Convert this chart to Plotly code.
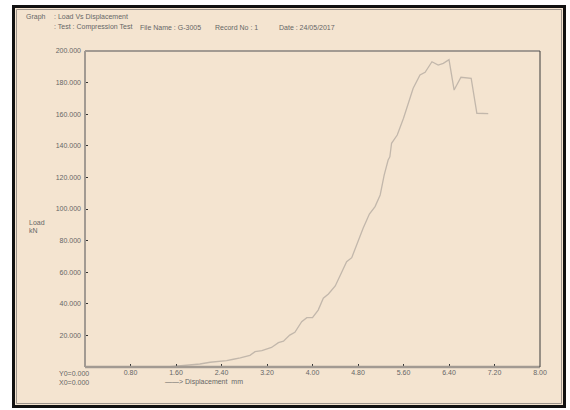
import plotly.graph_objects as go

# Load vs displacement record, compression test G-3005
displacement_mm = [1.45, 1.60, 1.80, 2.02, 2.20, 2.49, 2.61, 2.73, 2.90, 2.99, 3.11, 3.28,
                   3.40, 3.49, 3.60, 3.69, 3.81, 3.90, 4.00, 4.10, 4.19, 4.28, 4.40, 4.48,
                   4.60, 4.69, 4.81, 4.89, 5.00, 5.10, 5.19, 5.26, 5.33, 5.36, 5.39, 5.49,
                   5.60, 5.68, 5.77, 5.89, 5.98, 6.10, 6.21, 6.30, 6.40, 6.49, 6.61, 6.79,
                   6.89, 7.09]
load_kn = [0.0, 0.4, 1.0, 1.9, 3.0, 4.0, 4.9, 5.7, 7.4, 9.7, 10.3, 12.4,
           15.4, 16.3, 20.2, 22.0, 28.7, 31.2, 31.2, 36.0, 43.5, 46.2, 51.3, 57.2,
           66.6, 69.2, 80.4, 87.8, 96.8, 101.5, 108.9, 121.5, 131.0, 133.0, 141.6, 146.8,
           157.4, 165.8, 176.4, 184.8, 186.5, 193.2, 191.1, 192.2, 194.5, 175.3, 183.4, 182.7,
           160.6, 160.4]

x_ticks = [0.8, 1.6, 2.4, 3.2, 4.0, 4.8, 5.6, 6.4, 7.2, 8.0]
x_tick_labels = ["0.80", "1.60", "2.40", "3.20", "4.00", "4.80", "5.60", "6.40", "7.20", "8.00"]
y_ticks = [20, 40, 60, 80, 100, 120, 140, 160, 180, 200]
y_tick_labels = ["20.000", "40.000", "60.000", "80.000", "100.000", "120.000",
                 "140.000", "160.000", "180.000", "200.000"]

W, H = 570, 410
L, R, T, B = 85, 540, 51, 367          # plot area in pixels
PW, PH = R - L, B - T

def px(x):
    return (x - L) / PW

def py(y):
    return (B - y) / PH

CREAM = "#F4E4D0"
TEXT = "#666666"
AXIS = "#A29A92"
FONT = "Liberation Sans, Arial, sans-serif"

fig = go.Figure()
fig.add_trace(go.Scatter(
    x=displacement_mm, y=load_kn, mode="lines",
    line=dict(color="#C2B7AB", width=1.3), hoverinfo="skip", showlegend=False,
))

shapes = [
    # window frame
    dict(type="rect", xref="paper", yref="paper", layer="below",
         x0=px(13.5), x1=px(564.5), y0=py(406.5), y1=py(6.5),
         line=dict(color="#111111", width=3), fillcolor=CREAM),
    dict(type="rect", xref="paper", yref="paper", layer="below",
         x0=px(16.5), x1=px(561.5), y0=py(403.5), y1=py(9.5),
         line=dict(color="#9C948C", width=1)),
    # plot box
    dict(type="line", xref="paper", yref="paper", x0=0, x1=0, y0=0, y1=1,
         line=dict(color=AXIS, width=2)),
    dict(type="line", xref="paper", yref="paper", x0=0, x1=1, y0=0, y1=0,
         line=dict(color=AXIS, width=2.5)),
    dict(type="line", xref="paper", yref="paper", x0=0, x1=1, y0=1, y1=1,
         line=dict(color=AXIS, width=2)),
    dict(type="line", xref="paper", yref="paper", x0=1, x1=1, y0=0, y1=1,
         line=dict(color="#3A3A3A", width=1)),
]

def note(x, y, text, size=7, anchor="left"):
    return dict(xref="paper", yref="paper", x=px(x), y=py(y), text=text,
                showarrow=False, xanchor=anchor, yanchor="middle",
                font=dict(size=size, color=TEXT, family=FONT))

annotations = [
    note(24, 17, "Graph"),
    note(52, 17, ": Load Vs Displacement"),
    note(52, 27, ": Test : Compression Test"),
    note(138, 27, "File Name : G-3005"),
    note(213, 27, "Record No : 1"),
    note(277, 27, "Date : 24/05/2017"),
    note(27, 222, "Load"),
    note(27, 230, "kN"),
    note(57, 373, "Y0=0.000"),
    note(57, 382, "X0=0.000"),
    note(163, 382, "——> Displacement  mm"),
]

fig.update_layout(
    width=W, height=H,
    margin=dict(l=L, r=W - R, t=T, b=H - B, pad=0),
    paper_bgcolor="white", plot_bgcolor=CREAM,
    font=dict(family=FONT, size=7, color=TEXT),
    shapes=shapes, annotations=annotations,
    xaxis=dict(range=[0, 8], tickvals=x_ticks, ticktext=x_tick_labels,
               ticks="inside", ticklen=3, tickcolor="#333333", tickwidth=1,
               showgrid=False, zeroline=False, showline=False,
               tickfont=dict(size=7, color=TEXT, family=FONT), fixedrange=True),
    yaxis=dict(range=[0, 200], tickvals=y_ticks, ticktext=y_tick_labels,
               ticks="inside", ticklen=3, tickcolor="#333333", tickwidth=1,
               ticklabelstandoff=3,
               showgrid=False, zeroline=False, showline=False,
               tickfont=dict(size=7, color=TEXT, family=FONT), fixedrange=True),
)

fig.write_html("out.html", config={"displayModeBar": False})
